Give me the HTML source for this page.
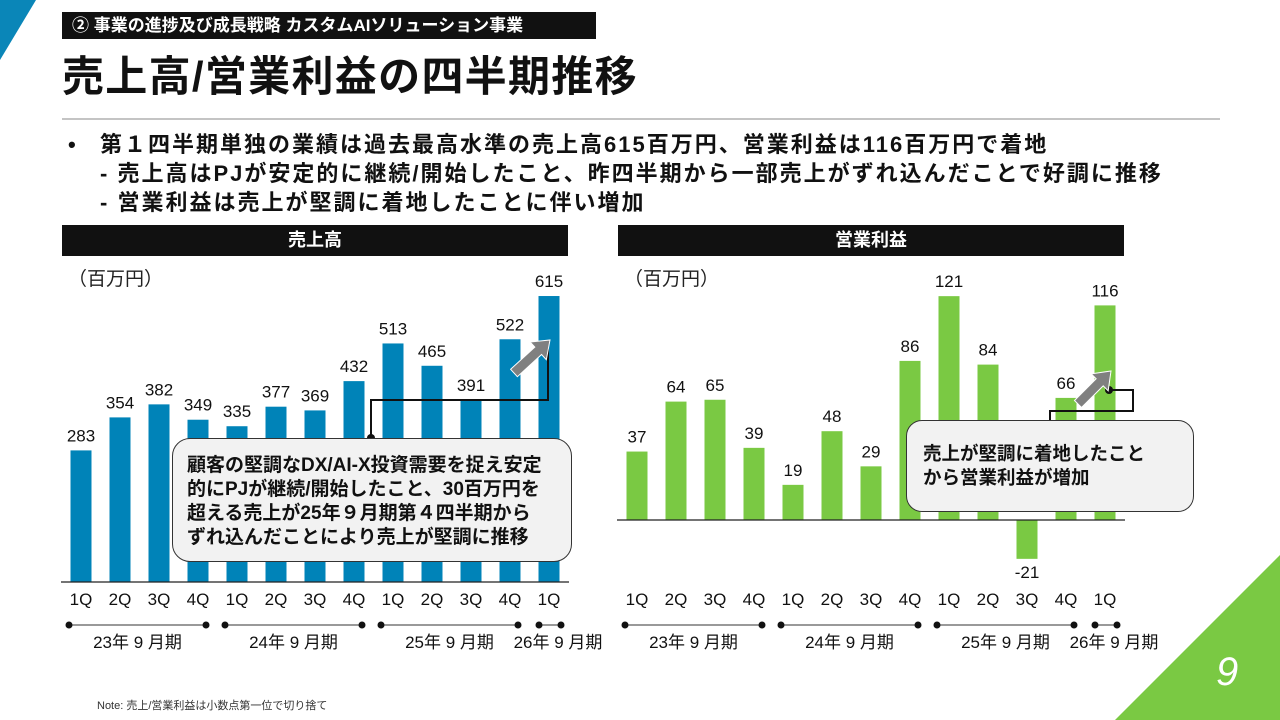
<!DOCTYPE html>
<html><head><meta charset="utf-8"><style>
body{margin:0;width:1280px;height:720px;overflow:hidden;background:#fff;font-family:"Liberation Sans","Noto Sans CJK JP",sans-serif;position:relative}
.a{position:absolute}
</style></head><body>
<svg class="a" style="left:0;top:0" width="1280" height="720">
<polygon points="0,0 36,0 0,60" fill="#0a86b8"/>
<polygon points="1115,720 1280,720 1280,555" fill="#7ac943"/>
<line x1="62" y1="119" x2="1220" y2="119" stroke="#888" stroke-width="1"/>
</svg>
<div class="a" style="left:62px;top:12px;width:534px;height:27px;background:#111;color:#fff;font-size:17px;font-weight:bold;line-height:27px;padding-left:10px;box-sizing:border-box">② 事業の進捗及び成長戦略 カスタムAIソリューション事業</div>
<div class="a" style="left:62px;top:43px;font-size:42px;font-weight:bold;color:#111;letter-spacing:1.3px;white-space:nowrap">売上高/営業利益の四半期推移</div>
<div class="a" style="left:68px;top:130px;font-size:22px;font-weight:bold;line-height:29px;color:#111;letter-spacing:2px;white-space:nowrap">
<div><span style="display:inline-block;width:32px">•</span>第１四半期単独の業績は過去最高水準の売上高615百万円、営業利益は116百万円で着地</div>
<div style="padding-left:32px">- 売上高はPJが安定的に継続/開始したこと、昨四半期から一部売上がずれ込んだことで好調に推移</div>
<div style="padding-left:32px">- 営業利益は売上が堅調に着地したことに伴い増加</div></div>
<div class="a" style="left:62px;top:225px;width:506px;height:31px;background:#111;color:#fff;font-size:18px;font-weight:bold;text-align:center;line-height:31px">売上高</div>
<div class="a" style="left:618px;top:225px;width:506px;height:31px;background:#111;color:#fff;font-size:18px;font-weight:bold;text-align:center;line-height:31px">営業利益</div>
<div class="a" style="left:68px;top:264px;font-size:19px;color:#222">（百万円）</div>
<div class="a" style="left:624px;top:264px;font-size:19px;color:#222">（百万円）</div>
<svg id="ch" class="a" style="left:0;top:0" width="1280" height="720"></svg>
<div class="a" style="left:172px;top:438px;width:400px;height:124px;background:#f2f2f2;border:1.5px solid #333;border-radius:18px;box-sizing:border-box;padding:15px 0 0 14px;font-size:19px;font-weight:bold;line-height:24px;color:#111;white-space:nowrap">顧客の堅調なDX/AI-X投資需要を捉え安定<br>的にPJが継続/開始したこと、30百万円を<br>超える売上が25年９月期第４四半期から<br>ずれ込んだことにより売上が堅調に推移</div>
<div class="a" style="left:906px;top:420px;width:288px;height:92px;background:#f2f2f2;border:1.5px solid #333;border-radius:16px;box-sizing:border-box;padding:21px 0 0 16px;font-size:18.5px;font-weight:bold;line-height:24px;color:#111;white-space:nowrap">売上が堅調に着地したこと<br>から営業利益が増加</div>
<div class="a" style="left:97px;top:697px;font-size:11px;color:#333">Note: 売上/営業利益は小数点第一位で切り捨て</div>
<div class="a" style="left:1216px;top:650px;font-size:40px;font-style:italic;color:#fff">9</div>
<script>
const quarters=["1Q","2Q","3Q","4Q","1Q","2Q","3Q","4Q","1Q","2Q","3Q","4Q","1Q"];
const salesValues=[283,354,382,349,335,377,369,432,513,465,391,522,615];
const profitValues=[37,64,65,39,19,48,29,86,121,84,-21,66,116];
const periodLabels=["23年 9 月期","24年 9 月期","25年 9 月期","26年 9 月期"];
const periodSpans=[[0,3],[4,7],[8,11],[12,12]];
const svg=document.getElementById('ch');const NS='http://www.w3.org/2000/svg';
function mk(t,a,name){const e=document.createElementNS(NS,t);for(const k in a)e.setAttribute(k,a[k]);


svg.appendChild(e);return e;}
function chart(vals,x0,base,scale,color,prefix){
 const xs=i=>x0+i*39;const ys=v=>base-v*scale;
 vals.forEach((v,i)=>{const y=Math.min(ys(v),base);const h=Math.abs(ys(v)-base);
  mk('rect',{x:xs(i)-10.5,y:y,width:21,height:h,fill:color},prefix+'-bar-'+i);
  const ty=v>=0?ys(v)-9:ys(v)+19;
  const t=mk('text',{x:xs(i),y:ty,'text-anchor':'middle','font-size':17,fill:'#111'},prefix+'-value-label');t.textContent=v;
  const q=mk('text',{x:xs(i),y:605,'text-anchor':'middle','font-size':17,fill:'#111'},prefix+'-x-tick');q.textContent=quarters[i];});
 mk('line',{x1:xs(0)-20,y1:base,x2:xs(12)+20,y2:base,stroke:'#222','stroke-width':1.2},prefix+'-baseline');
 periodSpans.forEach((s,j)=>{const a=xs(s[0])-12,b=xs(s[1])+(j==3?12:8);const a2=j==3?a+2:a;
  mk('line',{x1:a2,y1:625,x2:b,y2:625,stroke:'#333','stroke-width':1},prefix+'-period-line');
  mk('circle',{cx:a2,cy:625,r:3.5,fill:'#111'},prefix+'-period-dot');mk('circle',{cx:b,cy:625,r:3.5,fill:'#111'},prefix+'-period-dot');
  const t=mk('text',{x:(a2+b)/2+(j==3?8:0),y:648,'text-anchor':'middle','font-size':17,fill:'#111'},prefix+'-period-label');t.textContent=periodLabels[j];});
 return {xs,ys};}
chart(salesValues,81,582,0.465,'#0083b8','sales');
chart(profitValues,637,520,1.85,'#7ac943','profit');
mk('polyline',{points:'371,438 371,400 548,400 548,345',fill:'none',stroke:'#111','stroke-width':2},'sales-connector');
mk('circle',{cx:371,cy:438,r:4,fill:'#111'},'sales-connector-dot');
mk('polyline',{points:'1109,390 1133,390 1133,411 1050,411 1050,420',fill:'none',stroke:'#111','stroke-width':2},'profit-connector');
mk('circle',{cx:1109,cy:390,r:4,fill:'#111'},'profit-connector-dot');
function arrow(x1,y1,x2,y2,name){const dx=x2-x1,dy=y2-y1,L=Math.hypot(dx,dy),ux=dx/L,uy=dy/L,px=-uy,py=ux;
 const hb=[x2-ux*16,y2-uy*16];const w=5,hw=12;
 const p=[[x1+px*w,y1+py*w],[hb[0]+px*w,hb[1]+py*w],[hb[0]+px*hw,hb[1]+py*hw],[x2,y2],[hb[0]-px*hw,hb[1]-py*hw],[hb[0]-px*w,hb[1]-py*w],[x1-px*w,y1-py*w]];
 mk('polygon',{points:p.map(q=>q.join(',')).join(' '),fill:'#808080',stroke:'#fff','stroke-width':1},name);}
arrow(514,373,550,340,'sales-growth-arrow');
arrow(1078,404,1111,371,'profit-growth-arrow');
</script>
</body></html>
